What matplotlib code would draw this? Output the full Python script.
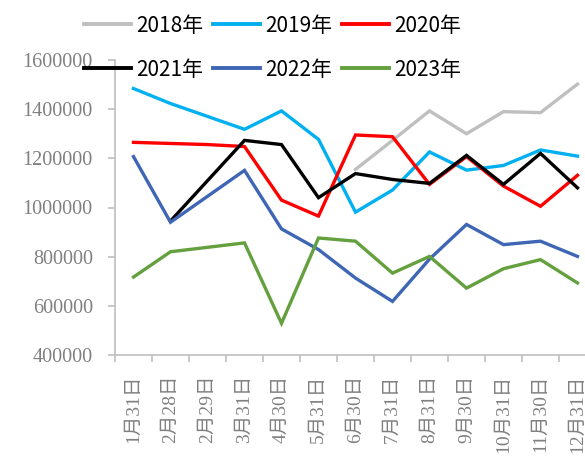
import numpy as np
import matplotlib
matplotlib.use("Agg")
import matplotlib.pyplot as plt
from matplotlib.ticker import FixedLocator

categories = ["1月31日", "2月28日", "2月29日", "3月31日", "4月30日", "5月31日", "6月30日",
              "7月31日", "8月31日", "9月30日", "10月31日", "11月30日", "12月31日"]
nan = np.nan
y2018 = [nan, nan, nan, nan, nan, nan, 1155000, 1273000, 1393000, 1300000, 1390000, 1386000, 1502000]
y2019 = [1484000, 1423000, nan, 1318000, 1393000, 1277000, 981000, 1071000, 1226000, 1152000, 1171000, 1234000, 1209000]
y2020 = [1265000, nan, 1256000, 1248000, 1030000, 965000, 1295000, 1288000, 1094000, 1207000, 1087000, 1005000, 1131000]
y2021 = [nan, 945000, nan, 1273000, 1256000, 1040000, 1138000, 1114000, 1098000, 1212000, 1094000, 1220000, 1080000]
y2022 = [1207000, 940000, nan, 1151000, 913000, 829000, 713000, 618000, 790000, 931000, 849000, 863000, 801000]
y2023 = [717000, 820000, nan, 856000, 529000, 876000, 863000, 733000, 801000, 672000, 751000, 788000, 693000]
series_names = ["2018年", "2019年", "2020年", "2021年", "2022年", "2023年"]
series_vals = [y2018, y2019, y2020, y2021, y2022, y2023]
colors = ["#BFBFBF", "#00B0F0", "#FF0000", "#000000", "#3E66B4", "#64A03E"]
yticks = [400000, 600000, 800000, 1000000, 1200000, 1400000, 1600000]

fig = plt.figure(figsize=(5.85, 4.62), dpi=100)
ax = fig.add_axes([115/585, 107/462, 481/585, 295/462])

handles = []
x_all = np.arange(len(categories))
for name, vals, c in zip(series_names, series_vals, colors):
    v = np.array(vals, dtype=float)
    m = ~np.isnan(v)
    ln, = ax.plot(x_all[m], v[m], color=c, lw=2.4, label=name, solid_joinstyle='miter', clip_on=False)
    handles.append(ln)

ax.set_xlim(-0.5, len(categories) - 0.5)
ax.set_ylim(400000, 1600000)
ax.set_yticks(yticks)
ax.set_yticklabels([str(t) for t in yticks])
ax.set_xticks(x_all)
ax.set_xticklabels(categories)
ax.xaxis.set_minor_locator(FixedLocator(np.arange(-0.5, len(categories), 1.0)))

for s in ["top", "right"]:
    ax.spines[s].set_visible(False)
for s in ["left", "bottom"]:
    ax.spines[s].set_color("#BFBFBF")
    ax.spines[s].set_linewidth(1.2)

serif = ["Liberation Serif", "Noto Sans CJK SC"]
ax.tick_params(axis="y", which="major", length=5, width=1.2, color="#BFBFBF", pad=11,
               labelcolor="#808080", labelsize=14.5)
ax.tick_params(axis="x", which="major", length=0, pad=14, labelcolor="#808080", labelsize=14)
ax.tick_params(axis="x", which="minor", length=5, width=1.2, color="#BFBFBF")
for lab in ax.get_yticklabels():
    lab.set_fontfamily(serif)
for lab in ax.get_xticklabels():
    lab.set_fontfamily(serif)
    lab.set_rotation(90)
    lab.set_va("top")
    lab.set_ha("center")

order = [0, 3, 1, 4, 2, 5]
leg = fig.legend([handles[i] for i in order], [series_names[i] for i in order],
                 loc="center", bbox_to_anchor=(0.466, 0.897), ncol=3, frameon=False,
                 prop={"family": ["Noto Sans CJK SC", "DejaVu Sans"], "size": 15},
                 handlelength=2.25, handletextpad=0.25, columnspacing=0.45, labelspacing=1.05,
                 borderpad=0, borderaxespad=0)
for lh in leg.get_lines():
    lh.set_linewidth(2.8)

fig.savefig("out.png", dpi=100)
